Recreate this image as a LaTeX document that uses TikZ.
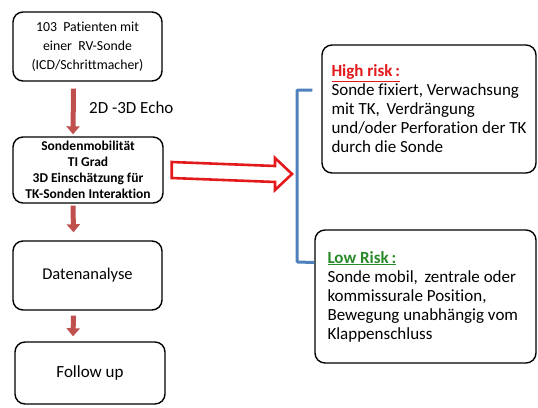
\documentclass[tikz,border=0pt]{standalone}
\usepackage{fontspec}
\setmainfont{Carlito}[Ligatures=NoCommon]
\usetikzlibrary{arrows.meta}
\definecolor{arrred}{HTML}{C0504D}
\definecolor{brblue}{HTML}{4F81BD}
\definecolor{hired}{HTML}{E3191B}
\definecolor{logreen}{HTML}{2A8A2A}
\tikzset{
  box/.style={draw=black, line width=1.4pt, rounded corners=10pt, fill=white, align=center, inner sep=0pt},
  flow/.style={draw=arrred, line width=5pt, -{Triangle[width=13pt,length=8pt]}},
  lbl/.style={font=\fontsize{17}{19}\selectfont, inner sep=0pt}
}
\begin{document}
\begin{tikzpicture}[x=1pt,y=-1pt]
\useasboundingbox (0,0) rectangle (538,407);
\node[box, minimum width=149pt, minimum height=69pt, font=\fontsize{13.8}{19}\selectfont] (b1) at (87.5,46.5) {103~~Patienten mit\\einer~~RV-Sonde\\(ICD/Schrittmacher)};
\node[box, minimum width=150pt, minimum height=66pt, font=\bfseries\fontsize{13.5}{16}\selectfont] (b2) at (88,170) {Sondenmobilität\\TI Grad\\3D Einschätzung für\\TK-Sonden Interaktion};
\node[box, minimum width=149pt, minimum height=69pt, font=\fontsize{16.5}{19}\selectfont] (b3) at (87.5,275.5) {Datenanalyse};
\node[box, minimum width=150pt, minimum height=62pt, font=\fontsize{17}{19}\selectfont] (b4) at (90,373) {Follow up};
\node[box, minimum width=214pt, minimum height=128pt, align=left, font=\fontsize{17}{19}\selectfont] (hi) at (429,109) {\begin{minipage}{195pt}{\color{hired}\bfseries\underline{High risk\,:}}\\Sonde fixiert, Verwachsung\\mit TK,\, Verdrängung\\und/oder Perforation der TK\\durch die Sonde\end{minipage}};
\node[box, minimum width=221pt, minimum height=133pt, align=left, font=\fontsize{17}{19}\selectfont] (lo) at (425.5,296.5) {\begin{minipage}{196pt}{\color{logreen}\bfseries\underline{Low Risk\,:}}\\Sonde mobil,\, zentrale oder\\kommissurale Position,\\Bewegung unabhängig vom\\Klappenschluss\end{minipage}};
% flow arrows
\draw[flow] ([xshift=-14pt,yshift=-7pt]b1.south) -- ([xshift=-15pt,yshift=2pt]b2.north);
\node[lbl, anchor=west] (echo) at (89,108) {2D -3D Echo};
\draw[flow] ([xshift=-15pt,yshift=-2pt]b2.south) -- ([xshift=-14pt,yshift=8pt]b3.north);
\draw[flow] ([xshift=-14pt,yshift=-5pt]b3.south) -- ([xshift=-17pt,yshift=5pt]b4.north);
% hollow arrow
\coordinate (ha) at ([xshift=8pt]b2.east);
\coordinate (tip) at (292,174);
\draw[hired, line width=2.6pt, line join=miter, fill=white]
  ([yshift=8pt]ha) -- (275,166) -- (275,158) -- (tip) -- (275,190) -- (275,182) -- ([yshift=-8pt]ha) -- cycle;
% bracket
\draw[brblue, line width=3pt, rounded corners=1pt] ([xshift=-9pt,yshift=19pt]hi.west) -| (297,262) -- ([yshift=34pt]lo.west);
\end{tikzpicture}
\end{document}
